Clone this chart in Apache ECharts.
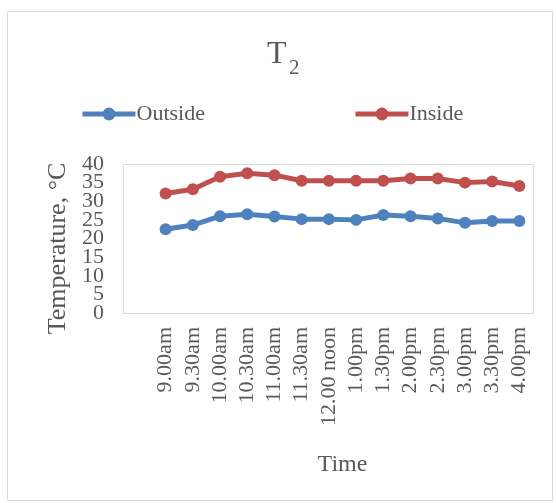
<!DOCTYPE html>
<html>
<head>
<meta charset="utf-8">
<script src="https://cdn.jsdelivr.net/npm/echarts@6/dist/echarts.min.js"></script>
<style>
html,body{margin:0;padding:0;background:#fff;}
#chart{width:556px;height:503px;}
</style>
</head>
<body>
<div id="chart"></div>
<script>
// Temperature readings through the day
var times = ['9.00am','9.30am','10.00am','10.30am','11.00am','11.30am','12.00 noon','1.00pm','1.30pm','2.00pm','2.30pm','3.00pm','3.30pm','4.00pm'];
var outside = [22.5, 23.6, 26.0, 26.5, 25.9, 25.2, 25.2, 25.0, 26.3, 26.0, 25.4, 24.2, 24.7, 24.7];
var inside = [32.1, 33.2, 36.6, 37.5, 37.0, 35.5, 35.5, 35.5, 35.5, 36.1, 36.1, 35.0, 35.3, 34.1];
var yTicks = ['0', '5', '10', '15', '20', '25', '30', '35', '40'];

var serif = '"Liberation Serif", "Times New Roman", serif';
var textGray = '#595959';
var blue = '#4F81BD';
var red = '#C0504D';

var chart = echarts.init(document.getElementById('chart'), null, {renderer: 'canvas'});

function lineSeries(name, data, color) {
  return {
    name: name,
    type: 'line',
    data: data,
    yAxisIndex: 0,
    symbol: 'circle',
    symbolSize: 12,
    lineStyle: {width: 5, color: color},
    itemStyle: {color: color},
    emphasis: {disabled: true},
    animation: false
  };
}

chart.setOption({
  backgroundColor: '#fff',
  animation: false,
  graphic: [
    // outer chart frame
    {type: 'rect', shape: {x: 7.5, y: 11.5, width: 545, height: 489}, style: {fill: 'none', stroke: '#d9d9d9', lineWidth: 1}, z: -1},
    // plot area frame
    {type: 'rect', shape: {x: 123.5, y: 164.5, width: 410, height: 149}, style: {fill: 'none', stroke: '#d9d9d9', lineWidth: 1}, z: -1}
  ],
  title: [
    {text: 'T', left: 267, top: 39, padding: 0, textStyle: {fontFamily: serif, fontSize: 32, fontWeight: 'normal', color: textGray}},
    {text: '2', left: 289, top: 58, padding: 0, textStyle: {fontFamily: serif, fontSize: 21, fontWeight: 'normal', color: textGray}}
  ],
  legend: {
    top: 103,
    left: 80,
    padding: 0,
    itemGap: 148,
    itemWidth: 53,
    itemHeight: 16,
    lineStyle: {width: 5},
    textStyle: {fontFamily: serif, fontSize: 22, color: textGray, padding: [0, 0, 0, -4]},
    data: ['Outside', 'Inside']
  },
  grid: {left: 152, right: 23, top: 164, bottom: 190},
  xAxis: {
    type: 'category',
    data: times,
    boundaryGap: true,
    name: 'Time',
    nameLocation: 'middle',
    nameGap: 140,
    nameTextStyle: {fontFamily: serif, fontSize: 24, color: textGray},
    axisLine: {show: false},
    axisTick: {show: false},
    axisLabel: {rotate: 90, margin: 14, fontFamily: serif, fontSize: 22, color: textGray, interval: 0, padding: [8, 0, 0, 0]}
  },
  yAxis: [
    {
      // value scale used by the series
      type: 'value',
      min: 0,
      max: 40,
      interval: 5,
      name: 'Temperature, °C',
      nameLocation: 'middle',
      nameGap: 81,
      nameTextStyle: {fontFamily: serif, fontSize: 26, color: textGray, padding: [0, 20, 0, 0]},
      axisLine: {show: false},
      axisTick: {show: false},
      splitLine: {show: false},
      axisLabel: {show: false}
    },
    {
      // tick labels, packed tightly in the plot area's left margin
      type: 'category',
      data: yTicks,
      boundaryGap: false,
      position: 'left',
      axisLine: {show: false},
      axisTick: {show: false},
      splitLine: {show: false},
      axisLabel: {interval: 0, margin: 48, fontFamily: serif, fontSize: 22, color: textGray}
    }
  ],
  series: [
    lineSeries('Outside', outside, blue),
    lineSeries('Inside', inside, red)
  ]
});
</script>
</body>
</html>
